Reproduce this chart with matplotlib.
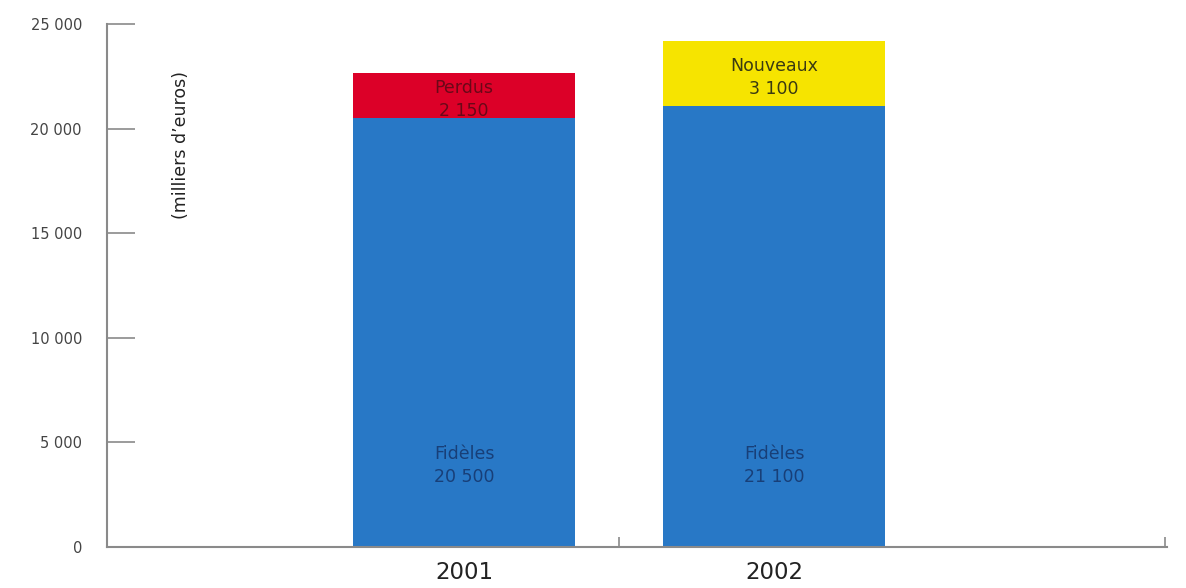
import numpy as np
import matplotlib.pyplot as plt
from matplotlib.ticker import FuncFormatter

# ===========================
# DONNÉES
# ===========================
annees = ["2001", "2002"]
fideles = [20500, 21100]
haut_valeurs = [2150, 3100]
haut_noms = ["Perdus", "Nouveaux"]

COUL_BLEU = "#2878c6"
COUL_HAUT = ["#dc0028", "#f6e400"]
COUL_TXT_HAUT = ["#6a0818", "#3a3a12"]
COUL_TXT_BLEU = "#183f78"
GRIS = "#8a8a8a"

def fmt_milliers(v, pos=None):
    return f"{int(v):,}".replace(",", " ")

# ===========================
# GRAPHIQUE
# ===========================
fig = plt.figure(figsize=(11.86, 5.88), dpi=100)
ax = fig.add_axes([0.0902, 0.0697, 0.8938, 0.8895])

x = np.arange(len(annees))
largeur = 0.716
ax.bar(x, fideles, width=largeur, color=COUL_BLEU)
ax.bar(x, haut_valeurs, width=largeur, bottom=fideles, color=COUL_HAUT)

for i in range(len(annees)):
    ax.text(x[i], 3900, f"Fidèles\n{fmt_milliers(fideles[i])}",
            ha="center", va="center", fontsize=12.5, color=COUL_TXT_BLEU,
            linespacing=1.35)
    y_mid = fideles[i] + haut_valeurs[i] / 2 - 200
    ax.text(x[i], y_mid, f"{haut_noms[i]}\n{fmt_milliers(haut_valeurs[i])}",
            ha="center", va="center", fontsize=12.5, color=COUL_TXT_HAUT[i],
            linespacing=1.35)

ax.set_xlim(-1.152, 2.268)
ax.set_ylim(0, 25000)

# axe Y
ax.set_yticks(np.arange(0, 25001, 5000))
ax.yaxis.set_major_formatter(FuncFormatter(fmt_milliers))
ax.tick_params(axis="y", direction="in", length=20, width=1.2, color=GRIS,
               pad=18, labelsize=10.5, labelcolor="#444444")

# axe X : étiquettes sans tirets, petits tirets entre les barres
ax.set_xticks(x)
ax.set_xticklabels(annees)
ax.tick_params(axis="x", length=0, pad=10, labelsize=16.5, labelcolor="#222222")
ax.set_xticks([0.5, 2.262], minor=True)
ax.tick_params(axis="x", which="minor", direction="in", length=7, width=1.2,
               color=GRIS)

for cote in ["top", "right"]:
    ax.spines[cote].set_visible(False)
for cote in ["left", "bottom"]:
    ax.spines[cote].set_color(GRIS)
    ax.spines[cote].set_linewidth(1.5)

ax.text(0.07, 0.769, "(milliers d’euros)", transform=ax.transAxes,
        rotation=90, ha="center", va="center", fontsize=12.5, color="#222222")

plt.savefig("out.png", dpi=100)
